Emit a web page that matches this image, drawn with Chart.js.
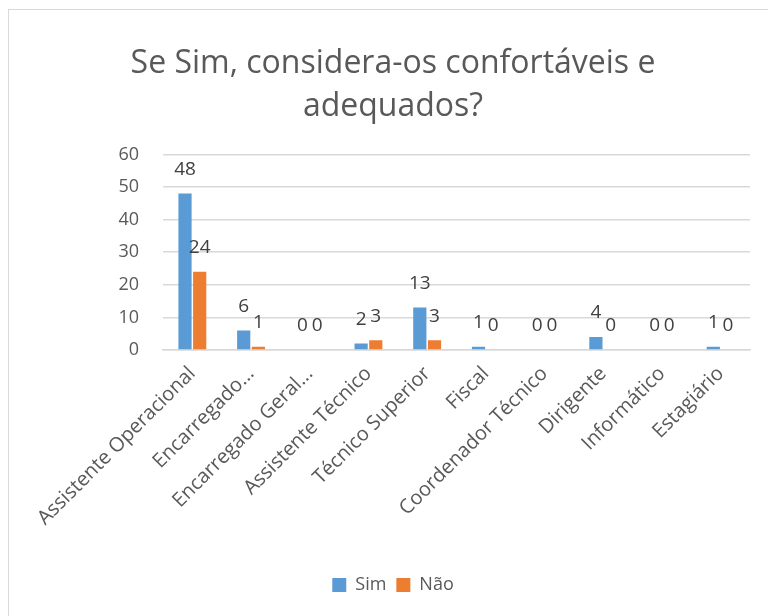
<!DOCTYPE html>
<html>
<head>
<meta charset="utf-8">
<script src="https://cdn.jsdelivr.net/npm/chart.js@4"></script>
<style>
  html, body { margin: 0; padding: 0; background: #fff; overflow: hidden; }
  #frame { position: absolute; left: 8px; top: 9px; width: 800px; height: 700px; border: 1px solid #d9d9d9; }
  #wrap { position: absolute; left: 0; top: 0; width: 768px; height: 616px; }
</style>
</head>
<body>
<div id="frame"></div>
<div id="wrap"><canvas id="chart" width="768" height="616"></canvas></div>
<script>
// Se Sim, considera-os confortáveis e adequados?
const categories = ['Assistente Operacional', 'Encarregado...', 'Encarregado Geral...', 'Assistente Técnico', 'Técnico Superior',
    'Fiscal', 'Coordenador Técnico', 'Dirigente', 'Informático', 'Estagiário'];
const simValues = [48, 6, 0, 2, 13, 1, 0, 4, 0, 1];
const naoValues = [24, 1, 0, 3, 3, 0, 0, 0, 0, 0];
const yTicks = [0, 10, 20, 30, 40, 50, 60];

const FONT = "'Open Sans', sans-serif";

// draws the value above each bar
const valueLabels = {
    id: 'valueLabels',
    afterDatasetsDraw(chart) {
        const ctx = chart.ctx;
        ctx.save();
        ctx.font = '19px ' + FONT;
        ctx.fillStyle = '#404040';
        ctx.textAlign = 'center';
        ctx.textBaseline = 'middle';
        chart.data.datasets.forEach((ds, i) => {
            chart.getDatasetMeta(i).data.forEach((bar, j) => {
                ctx.fillText(String(ds.data[j]), bar.x, bar.y - 24);
            });
        });
        ctx.restore();
    }
};

new Chart(document.getElementById('chart'), {
    type: 'bar',
    data: {
        labels: categories,
        datasets: [
            { label: 'Sim', data: simValues, backgroundColor: '#5b9bd5', categoryPercentage: 0.5, barPercentage: 0.9 },
            { label: 'Não', data: naoValues, backgroundColor: '#ed7d31', categoryPercentage: 0.5, barPercentage: 0.9 }
        ]
    },
    options: {
        responsive: false,
        animation: false,
        layout: { padding: { left: 36, right: 18, top: 30, bottom: 12 } },
        plugins: {
            title: {
                display: true,
                text: ['Se Sim, considera-os confortáveis e', 'adequados?'],
                color: '#595959',
                font: { family: FONT, size: 32, weight: 'normal', lineHeight: 1.35 },
                padding: { top: 12, bottom: 26 }
            },
            legend: {
                position: 'bottom',
                labels: {
                    color: '#595959',
                    font: { family: FONT, size: 18 },
                    boxWidth: 14, boxHeight: 14,
                    padding: 10
                }
            },
            tooltip: { enabled: false }
        },
        scales: {
            y: {
                min: 0, max: 60,
                afterBuildTicks: axis => { axis.ticks = yTicks.map(v => ({ value: v })); },
                afterFit: axis => { axis.width = 127; },
                ticks: { color: '#595959', font: { family: FONT, size: 18 }, padding: 24 },
                grid: { color: '#d9d9d9', lineWidth: 1.5, drawTicks: false },
                border: { display: false }
            },
            x: {
                afterFit: axis => { axis.height = 216; },
                ticks: { color: '#595959', font: { family: FONT, size: 20 }, minRotation: 45, maxRotation: 45, autoSkip: false, padding: 4 },
                grid: { display: false },
                border: { color: '#d9d9d9', width: 1.5 }
            }
        }
    },
    plugins: [valueLabels]
});
</script>
</body>
</html>
